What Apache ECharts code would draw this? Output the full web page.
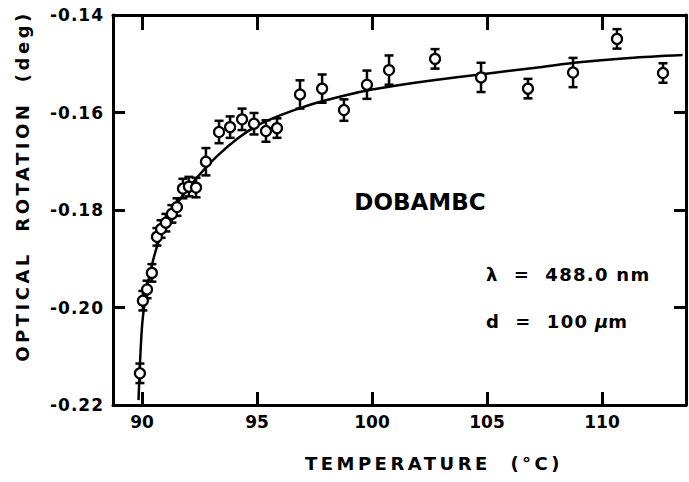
<!DOCTYPE html>
<html>
<head>
<meta charset="utf-8">
<script src="https://cdn.jsdelivr.net/npm/echarts@6/dist/echarts.min.js"></script>
<style>
  html, body { margin: 0; padding: 0; background: #fff; }
  #chart { width: 689px; height: 482px; }
</style>
</head>
<body>
<div id="chart"></div>
<script>
// Measured optical rotation of DOBAMBC vs temperature
const temps = [89.91, 90.04, 90.22, 90.43, 90.65, 90.83, 91.04, 91.30, 91.52, 91.78,
               92.04, 92.35, 92.78, 93.35, 93.83, 94.35, 94.87, 95.39, 95.87, 96.87,
               97.83, 98.78, 99.78, 100.74, 102.74, 104.74, 106.78, 108.74, 110.65, 112.65];
const rotation = [-0.2135, -0.1986, -0.1963, -0.1929, -0.1855, -0.1839, -0.1826, -0.1808, -0.1794, -0.1756,
                  -0.1752, -0.1754, -0.1701, -0.1640, -0.1630, -0.1614, -0.1623, -0.1638, -0.1632, -0.1563,
                  -0.1551, -0.1595, -0.1543, -0.1513, -0.1490, -0.1528, -0.1551, -0.1518, -0.1449, -0.1519];
const errors = [0.0020, 0.0020, 0.0018, 0.0018, 0.0018, 0.0018, 0.0018, 0.0018, 0.0018, 0.0020,
                0.0020, 0.0020, 0.0028, 0.0023, 0.0022, 0.0022, 0.0022, 0.0022, 0.0020, 0.0029,
                0.0029, 0.0022, 0.0029, 0.0030, 0.0020, 0.0030, 0.0020, 0.0030, 0.0020, 0.0020];

// Fitted curve
const fitTemps = [89.85, 90.0, 90.2, 90.5, 90.8, 91.2, 91.7, 92.4, 93.3, 94.2, 95.0, 96.0,
                  97.0, 98.0, 99.0, 100.0, 101.0, 102.5, 104.7, 107.3, 109.0, 111.2, 113.5];
const fitRotation = [-0.2190, -0.2040, -0.1965, -0.1900, -0.1855, -0.1812, -0.1775, -0.1733, -0.1688, -0.1652,
                     -0.1627, -0.1606, -0.1589, -0.1575, -0.1563, -0.1553, -0.1545, -0.1535, -0.1522,
                     -0.1507, -0.1497, -0.1488, -0.1482];

// Axis ticks
const tempTicks = [90, 95, 100, 105, 110];

const FONT = '"DejaVu Sans", sans-serif';
const INK = '#000';

const chart = echarts.init(document.getElementById('chart'), null, { renderer: 'svg' });

const pointData = temps.map((t, i) => [t, rotation[i]]);
const barData = temps.map((t, i) => [t, rotation[i] - errors[i], rotation[i] + errors[i]]);
const fitData = fitTemps.map((t, i) => [t, fitRotation[i]]);

const xBase = {
  type: 'value', min: 88.74, max: 113.65,
  axisLine: { show: true, onZero: false, lineStyle: { color: INK, width: 3 } },
  splitLine: { show: false }
};
const yBase = {
  type: 'value', min: -0.22, max: -0.14, interval: 0.02,
  axisLine: { show: true, onZero: false, lineStyle: { color: INK, width: 3 } },
  splitLine: { show: false }
};

chart.setOption({
  animation: false,
  backgroundColor: '#fff',
  grid: { left: 113, right: 3, top: 15, bottom: 77 },
  xAxis: [
    Object.assign({}, xBase, {
      position: 'bottom',
      axisTick: { show: true, inside: true, length: 13, customValues: tempTicks, lineStyle: { color: INK, width: 3 } },
      axisLabel: { show: true, customValues: tempTicks, margin: 8, color: INK, fontFamily: FONT, fontWeight: 'bold', fontSize: 17,
                   formatter: v => String(Math.round(v)) }
    }),
    Object.assign({}, xBase, {
      position: 'top',
      axisTick: { show: true, inside: true, length: 15, customValues: tempTicks, lineStyle: { color: INK, width: 3 } },
      axisLabel: { show: false }
    })
  ],
  yAxis: [
    Object.assign({}, yBase, {
      position: 'left',
      axisTick: { show: true, inside: true, length: 12, lineStyle: { color: INK, width: 3 } },
      axisLabel: { show: true, margin: 9, color: INK, fontFamily: FONT, fontWeight: 'bold', fontSize: 17,
                   formatter: v => v.toFixed(2) }
    }),
    Object.assign({}, yBase, {
      position: 'right',
      axisTick: { show: true, inside: true, length: 12, lineStyle: { color: INK, width: 3 } },
      axisLabel: { show: false }
    })
  ],
  series: [
    {
      type: 'line', data: fitData, smooth: 0.3,
      showSymbol: false, symbol: 'none', silent: true,
      lineStyle: { color: INK, width: 2.5 }, z: 2
    },
    {
      type: 'custom', data: barData, encode: { x: 0, y: [1, 2] }, z: 3,
      renderItem: (params, api) => {
        const x = api.value(0);
        const top = api.coord([x, api.value(2)]);
        const bot = api.coord([x, api.value(1)]);
        const w = 4.5;
        const st = { stroke: INK, lineWidth: 2.5 };
        return {
          type: 'group',
          children: [
            { type: 'line', shape: { x1: top[0], y1: top[1], x2: bot[0], y2: bot[1] }, style: st },
            { type: 'line', shape: { x1: top[0] - w, y1: top[1], x2: top[0] + w, y2: top[1] }, style: st },
            { type: 'line', shape: { x1: bot[0] - w, y1: bot[1], x2: bot[0] + w, y2: bot[1] }, style: st }
          ]
        };
      }
    },
    {
      type: 'scatter', data: pointData, symbol: 'circle', symbolSize: 10, z: 4,
      itemStyle: { color: '#fff', borderColor: INK, borderWidth: 2.2, opacity: 1 }
    }
  ],
  graphic: [
    { type: 'text', x: 22, y: 186, rotation: Math.PI / 2,
      style: { text: 'OPTICAL  ROTATION  (deg)', font: 'bold 18px ' + FONT, fill: INK, align: 'center', verticalAlign: 'middle' } },
    { type: 'text', x: 434, y: 463,
      style: { text: 'TEMPERATURE  (°C)', font: 'bold 18px ' + FONT, fill: INK, align: 'center', verticalAlign: 'middle' } },
    { type: 'text', x: 420, y: 202,
      style: { text: 'DOBAMBC', font: 'bold 23px ' + FONT, fill: INK, align: 'center', verticalAlign: 'middle' } },
    { type: 'text', x: 486, y: 274,
      style: { text: 'λ  =  488.0 nm', font: 'bold 18px ' + FONT, fill: INK, align: 'left', verticalAlign: 'middle' } },
    { type: 'text', x: 486, y: 321,
      style: { text: 'd  =  100', font: 'bold 18px ' + FONT, fill: INK, align: 'left', verticalAlign: 'middle' } },
    { type: 'text', x: 595, y: 321,
      style: { text: '{mu|μ}m', font: 'bold 18px ' + FONT, fill: INK, align: 'left', verticalAlign: 'middle',
               rich: { mu: { fontFamily: FONT, fontWeight: 'bold', fontStyle: 'italic', fontSize: 18, fill: INK } } } }
  ]
});

// Letter spacing for the spaced-out lettering
document.querySelectorAll('#chart text').forEach(t => {
  const s = t.textContent;
  if (s.indexOf('OPTICAL') === 0 || s.indexOf('TEMPERATURE') === 0) {
    t.setAttribute('letter-spacing', '3.5');
  } else if (s.indexOf('λ') === 0 || s.indexOf('d ') === 0) {
    t.setAttribute('letter-spacing', '1.3');
  } else if (s === 'μ' || s === 'm') {
    t.setAttribute('letter-spacing', '1');
  } else if (s.indexOf('-0.') === 0) {
    t.setAttribute('letter-spacing', '1');
  }
});
</script>
</body>
</html>
